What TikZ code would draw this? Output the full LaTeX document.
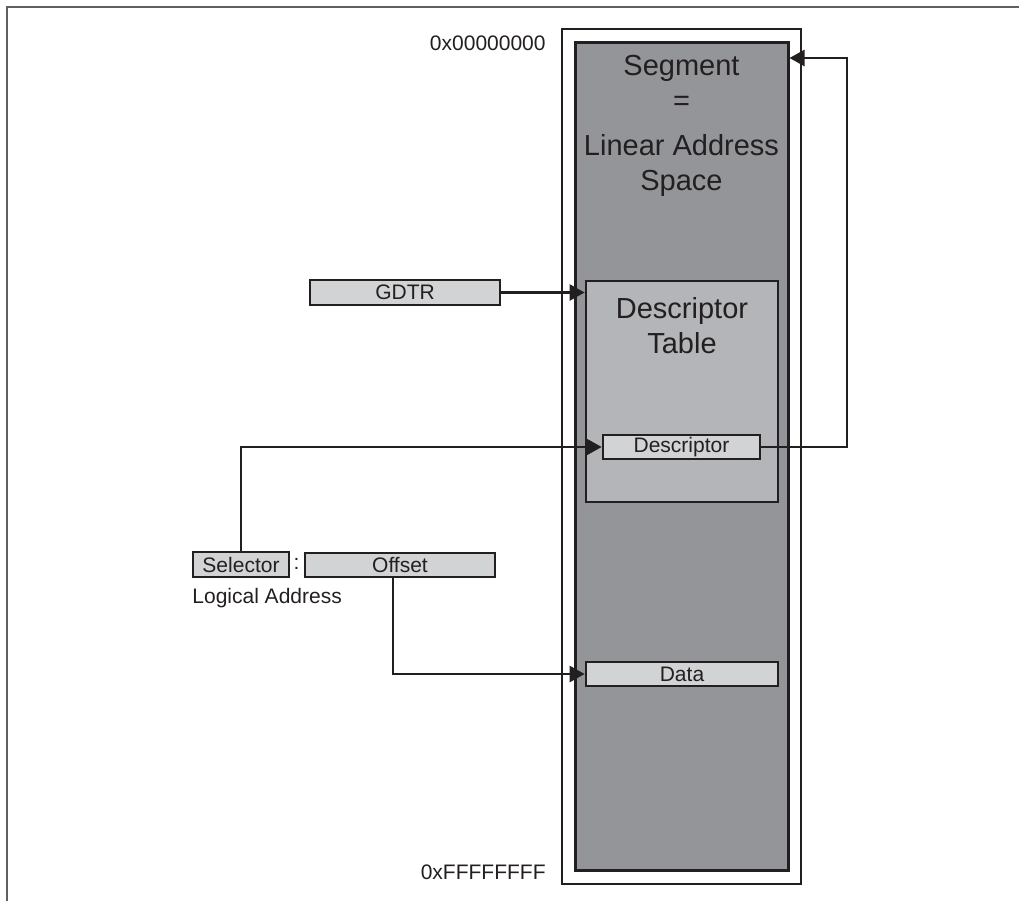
\documentclass[tikz,border=0pt]{standalone}
\usepackage{fontspec}
\setmainfont{Liberation Sans}
\usetikzlibrary{arrows.meta,positioning}
\definecolor{segFill}{HTML}{939598}
\definecolor{tabFill}{HTML}{B3B5B8}
\definecolor{boxFill}{HTML}{D1D3D4}
\definecolor{segInk}{HTML}{231F20}
\definecolor{frameInk}{HTML}{5F6062}

\tikzset{
  region/.style={draw=segInk, line width=1.35pt, inner sep=0pt},
  field/.style={draw=segInk, fill=boxFill, line width=1.3pt, inner sep=0pt,
    text=segInk, font=\fontsize{10.5}{12}\selectfont},
  link/.style={draw=segInk, line width=1.2pt, -{Triangle[length=7.5pt,width=8pt]}},
  bigtxt/.style={align=center, inner sep=0pt, text=segInk,
    font=\fontsize{14.5}{17.4}\selectfont},
  smalltxt/.style={inner sep=0pt, text=segInk, font=\fontsize{10.5}{12}\selectfont},
}

\begin{document}
\begin{tikzpicture}[x=0.5pt, y=-0.5pt]
  \useasboundingbox (0,0) rectangle (1019,901);
  % frame, top and left edges only
  \draw[frameInk, line width=1.2pt] (7,901) -- (7,7) -- (1019,7);

  % linear address space
  \node[region, fill=white, line width=1.2pt, minimum width=119.5pt, minimum height=427.5pt] (segbox) at (681.5,456.5) {};
  \node[region, fill=segFill, line width=1.5pt, minimum width=106.5pt, minimum height=414pt] (linear) at (681.5,456) {};
  \node[bigtxt, anchor=north] (segname) at (681.5,55) {Segment\\=\\[5pt]Linear Address\\Space};
  \node[smalltxt, anchor=east] (lowaddr) at (546,43) {0x00000000};
  \node[smalltxt, anchor=east] (highaddr) at (546,872) {0xFFFFFFFF};

  % descriptor table
  \node[region, fill=tabFill, minimum width=96pt, minimum height=110.5pt] (dtable) at (682,391.5) {};
  \node[bigtxt, anchor=north] (dtname) at (682,297) {Descriptor\\Table};
  \node[field, minimum width=78.5pt, minimum height=12pt] (desc) at (681.5,447) {Descriptor};
  \node[field, minimum width=96pt, minimum height=12pt] (data) at (682,674) {Data};

  % registers and logical address
  \node[field, minimum width=95pt, minimum height=12.5pt] (gdtr) at (405,292.5) {GDTR};
  \node[field, minimum width=48pt, minimum height=12.5pt] (sel) at (241,564.5) {Selector};
  \node[smalltxt] (colon) at (296.5,564) {:};
  \node[field, minimum width=95pt, minimum height=12pt] (off) at (400,565) {Offset};
  \node[smalltxt, anchor=west] (logaddr) at (192,598) {Logical Address};

  % connectors
  \coordinate (ret) at (847,58);
  \draw[link] (gdtr.east) -- (gdtr.east -| dtable.west);
  \draw[link] (sel.north) |- (desc.west);
  \draw[link] ([xshift=-3.5pt]off.south) |- (data.west);
  \draw[link] (desc.east) -| (ret) -- (ret -| linear.east);
\end{tikzpicture}
\end{document}
